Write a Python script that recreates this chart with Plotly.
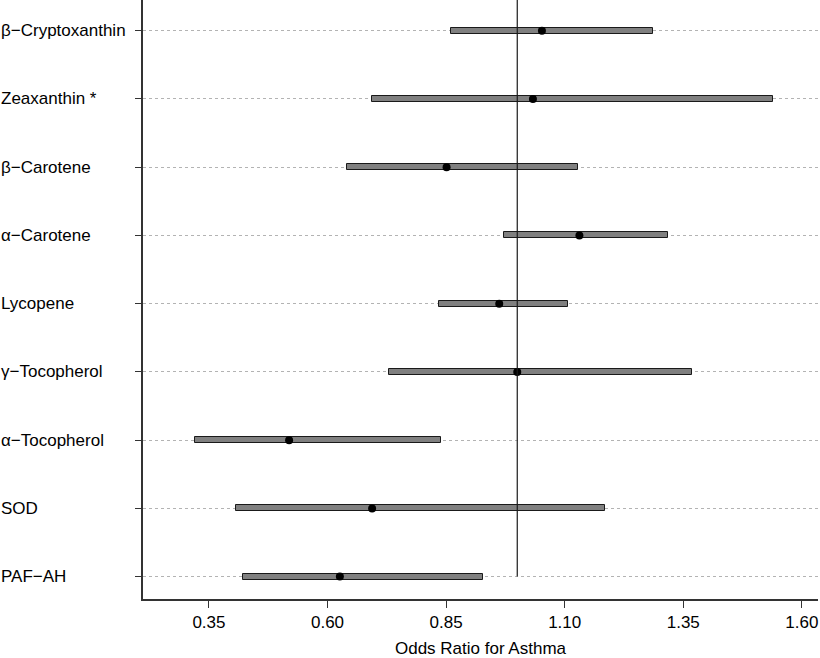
import plotly.graph_objects as go

labels = ["PAF\u2212AH", "SOD", "\u03b1\u2212Tocopherol", "\u03b3\u2212Tocopherol", "Lycopene",
          "\u03b1\u2212Carotene", "\u03b2\u2212Carotene", "Zeaxanthin *", "\u03b2\u2212Cryptoxanthin"]
odds_ratio = [0.626, 0.694, 0.519, 1.000, 0.962, 1.131, 0.851, 1.033, 1.052]
ci_lower = [0.421, 0.407, 0.321, 0.730, 0.835, 0.971, 0.642, 0.693, 0.860]
ci_upper = [0.928, 1.184, 0.840, 1.368, 1.106, 1.317, 1.129, 1.540, 1.286]
x_ticks = [0.35, 0.60, 0.85, 1.10, 1.35, 1.60]
x_tick_text = ["0.35", "0.60", "0.85", "1.10", "1.35", "1.60"]
ref_value = 1.0

positions = list(range(1, len(labels) + 1))
FONT = "Liberation Sans, Arial, Helvetica, sans-serif"
FS = 17

fig = go.Figure()
fig.add_trace(go.Bar(
    y=positions,
    x=[u - l for l, u in zip(ci_lower, ci_upper)],
    base=ci_lower,
    orientation="h",
    width=0.09,
    marker=dict(color="#808080", line=dict(color="#1a1a1a", width=1)),
    hoverinfo="skip",
    showlegend=False,
))
fig.add_trace(go.Scatter(
    x=odds_ratio, y=positions, mode="markers",
    marker=dict(color="black", size=8),
    showlegend=False,
))

fig.add_shape(type="line", xref="x", yref="y", x0=ref_value, x1=ref_value,
              y0=1, y1=9.45, line=dict(color="#1a1a1a", width=1.2), layer="above")

L, R, T, B = 143, 2, 0, 59
plot_w = 820 - L - R
for p, lab in zip(positions, labels):
    fig.add_annotation(x=-(L + 1) / plot_w, xref="paper", y=p, yref="y", text=lab,
                       showarrow=False, xanchor="left", yanchor="middle",
                       font=dict(family=FONT, size=FS, color="black"))

fig.update_layout(
    width=820, height=658,
    margin=dict(l=L, r=R, t=T, b=B, autoexpand=False),
    paper_bgcolor="white", plot_bgcolor="white",
    font=dict(family=FONT, size=FS, color="black"),
    bargap=0,
    xaxis=dict(
        range=[0.211, 1.634], tickvals=x_ticks, ticktext=x_tick_text,
        showgrid=False, zeroline=False, automargin=False,
        showline=True, linecolor="#333333", linewidth=1.5,
        ticks="outside", ticklen=7, tickcolor="#333333", tickwidth=1,
        tickfont=dict(family=FONT, size=FS, color="black"),
        title=dict(text="Odds Ratio for Asthma", standoff=11,
                   font=dict(family=FONT, size=FS, color="black")),
    ),
    yaxis=dict(
        range=[0.672, 9.45], tickvals=positions, showticklabels=False,
        showgrid=True, gridcolor="#b3b3b3", gridwidth=1, griddash="dot",
        zeroline=False, automargin=False,
        showline=True, linecolor="#333333", linewidth=1.5,
        ticks="outside", ticklen=6, tickcolor="#333333", tickwidth=1,
    ),
)

fig.write_html(
    "out.html",
    config={"displayModeBar": False},
    post_script="document.body.style.margin='0';document.body.style.padding='0';",
)
